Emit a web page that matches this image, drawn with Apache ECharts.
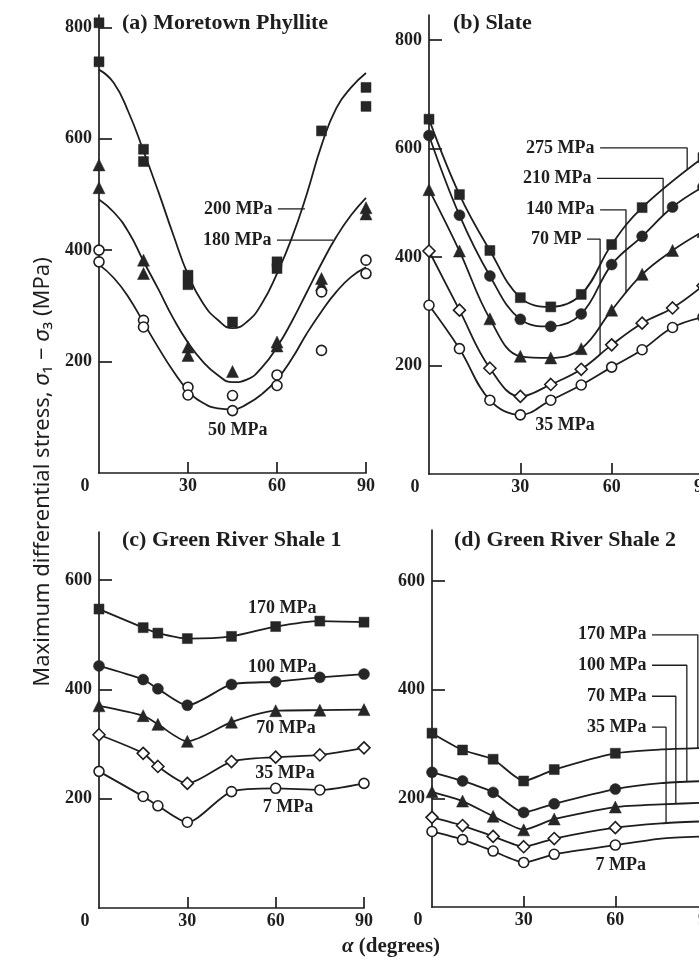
<!DOCTYPE html>
<html><head><meta charset="utf-8">
<script src="https://cdn.jsdelivr.net/npm/echarts@6/dist/echarts.min.js"></script>
<style>html,body{margin:0;padding:0;background:#fff}#c{width:699px;height:961px}</style>
</head><body><div id="c"></div>
<script>
// ================= DATA =================
// (a) Moretown Phyllite : measured points [alpha, stress]
const a200Pts = [[0,808],[0,738],[15,581],[15,559],[30,355],[30,338],[45,271],[60,379],[60,367],[75,614],[90,692],[90,658]];
const a180Pts = [[0,553],[0,512],[15,382],[15,358],[30,226],[30,211],[45,182],[60,235],[60,228],[75,349],[75,338],[90,476],[90,465]];
const a50Pts  = [[0,400],[0,379],[15,274],[15,262],[30,154],[30,140],[45,139],[45,112],[60,176],[60,157],[75,325],[75,220],[90,382],[90,358]];
// (a) fitted curves
const aCurveAngles = [0,5,10,15,20,25,30,35,40,45,50,55,60,65,70,75,80,85,90];
const a200Curve = [724,700,647,578,505,428,356,305,275,260,272,305,358,422,500,588,655,692,718];
const a180Curve = [491,468,432,380,330,278,234,200,176,163,168,190,226,272,324,376,424,463,494];
const a50Curve  = [374,350,315,270,225,183,148,126,116,114,124,142,168,205,250,290,325,352,369];

// (b) Slate
const bAngles = [0,10,20,30,40,50,60,70,80,90];
const b275Angles = [0,10,20,30,40,50,60,70,90];
const b275 = [654,515,412,325,308,331,423,491,583];
const b210 = [624,477,365,285,272,295,386,438,492,529];
const b140 = [524,411,286,217,214,231,302,368,412,447];
const b70  = [411,302,195,143,165,193,238,278,306,347];
const b35  = [311,231,136,109,136,164,197,229,270,289];

// (c) Green River Shale 1
const cAngles = [0,15,20,30,45,60,75,90];
const c170 = [547,513,503,493,497,515,525,523];
const c100 = [443,418,401,371,409,414,422,428];
const c70  = [370,352,336,305,340,361,362,363];
const c35  = [317,283,259,228,268,276,280,293];
const c7   = [250,204,187,157,213,219,216,228];

// (d) Green River Shale 2 (measured points, then curve continuation)
const dAngles = [0,10,20,30,40,60];
const d170 = [320,289,272,232,253,283];
const d100 = [248,232,211,174,190,217];
const d70  = [212,195,167,142,162,184];
const d35  = [165,150,130,111,126,146];
const d7   = [139,124,103,82,97,114];
const dTailAngles = [75,90];
const d170Tail = [290,293];
const d100Tail = [228,232];
const d70Tail  = [189,192];
const d35Tail  = [154,158];
const d7Tail   = [126,130];

// tick labels
const xTicks = [0,30,60,90];
const yTicksTop = [200,400,600,800];
const yTicksBottom = [200,400,600];

// annotations: [text, path of [alpha, stress]] (label sits at first point)
const aLeaders = [['200 MPa',[[60.3,474],[69.4,474]]],['180 MPa',[[60,418],[78.9,418]]]];
const aPlain = [['50 MPa',[46.8,77]]];
const bLeaders = [
  ['275 MPa',[[56.2,601],[84.8,601],[84.8,562]]],
  ['210 MPa',[[55.2,545],[76.9,545],[76.9,476]]],
  ['140 MPa',[[56.2,487],[64.7,487],[64.7,334]]],
  ['70 MP',[[51.9,433],[56.2,433],[56.2,221]]]
];
const bPlain = [['35 MPa',[44.7,90]]];
const cPlain = [['170 MPa',[62.2,549]],['100 MPa',[62.2,441]],['70 MPa',[63.5,329]],['35 MPa',[63.2,247]],['7 MPa',[64.2,185]]];
const dLeaders = [
  ['170 MPa',[[72,501],[87,501],[87,292]]],
  ['100 MPa',[[72,445],[83.4,445],[83.4,230]]],
  ['70 MPa',[[72,388],[79.8,388],[79.8,190]]],
  ['35 MPa',[[72,331],[76.6,331],[76.6,155]]]
];
const dPlain = [['7 MPa',[61.8,77]]];

const titles = ['(a) Moretown Phyllite','(b) Slate','(c) Green River Shale 1','(d) Green River Shale 2'];

// ================= CHART =================
const ink = '#1e1e1e';
const serif = '"Liberation Serif","DejaVu Serif",serif';
const chart = echarts.init(document.getElementById('c'), null, {renderer:'canvas'});

const grids = [
  {left:99, top:15, width:267, height:458},
  {left:429, top:15, width:274, height:459},
  {left:99, top:532, width:265, height:376},
  {left:432, top:530, width:275, height:377}
].map(g => Object.assign(g, {containLabel:false, outerBoundsMode:'none'}));
const yMax = [822, 846, 688, 694];

function xAxis(gi){
  return {gridIndex:gi, type:'value', min:0, max:90, interval:30,
    axisLine:{show:true, onZero:false, lineStyle:{color:ink, width:1.7}},
    axisTick:{show:true, inside:true, length:11, customValues:[30,60,90], lineStyle:{color:ink, width:1.7}},
    axisLabel:{show:true, color:ink, fontFamily:serif, fontSize:18, fontWeight:'bold', margin:4,
      customValues:xTicks, hideOverlap:false,
      formatter:v => v===0 ? '{z|0}' : String(v),
      rich:{z:{padding:[0,28,0,0], color:ink, fontFamily:serif, fontSize:18, fontWeight:'bold'}}},
    splitLine:{show:false}};
}
function yAxis(gi, ticks){
  return {gridIndex:gi, type:'value', min:0, max:yMax[gi],
    axisLine:{show:true, onZero:false, lineStyle:{color:ink, width:1.7}},
    axisTick:{show:true, inside:true, length:13, customValues:ticks, lineStyle:{color:ink, width:1.7}},
    axisLabel:{show:true, color:ink, fontFamily:serif, fontSize:18, fontWeight:'bold', margin:7, customValues:ticks},
    splitLine:{show:false}};
}

const sym = {
  square:{symbol:'rect', symbolSize:10, itemStyle:{color:'#262626', borderColor:'#262626', borderWidth:0.5, opacity:1}},
  dot:{symbol:'circle', symbolSize:11, itemStyle:{color:'#262626', borderColor:'#262626', borderWidth:0.5, opacity:1}},
  tri:{symbol:'triangle', symbolSize:12, itemStyle:{color:'#262626', borderColor:'#262626', borderWidth:0.5, opacity:1}},
  diamond:{symbol:'diamond', symbolSize:12, itemStyle:{color:'#fff', borderColor:ink, borderWidth:1.6, opacity:1}},
  ring:{symbol:'circle', symbolSize:10, itemStyle:{color:'#fff', borderColor:ink, borderWidth:1.6, opacity:1}}
};

const series = [];
function zip(xs, ys){ return xs.map((x,i)=>[x, ys[i]]); }
function curve(gi, data, smooth){
  series.push({type:'line', xAxisIndex:gi, yAxisIndex:gi, data, smooth, showSymbol:false, symbol:'none',
    clip:false, silent:true, z:2, lineStyle:{color:ink, width:1.8}});
}
function pts(gi, data, s){
  series.push(Object.assign({type:'scatter', xAxisIndex:gi, yAxisIndex:gi, data, clip:false, silent:true, z:3}, JSON.parse(JSON.stringify(s))));
}
function lineWithSyms(gi, data, s, smooth){
  series.push(Object.assign({type:'line', xAxisIndex:gi, yAxisIndex:gi, data, smooth, showSymbol:true,
    clip:false, silent:true, z:3, lineStyle:{color:ink, width:1.8}}, JSON.parse(JSON.stringify(s))));
}
const labelStyle = {show:true, formatter:'{b}', color:ink, fontFamily:serif, fontSize:18, fontWeight:'bold', opacity:1};
function leaders(gi, list){
  list.forEach(([txt, path])=>{
    series.push({type:'line', xAxisIndex:gi, yAxisIndex:gi, data:path, symbol:'none', showSymbol:false,
      clip:false, silent:true, z:1, lineStyle:{color:ink, width:1.3}});
  });
  series.push({type:'scatter', xAxisIndex:gi, yAxisIndex:gi, symbolSize:1, clip:false, silent:true, z:4,
    itemStyle:{color:'rgba(0,0,0,0)', opacity:1},
    data:list.map(([txt, path])=>({name:txt, value:path[0]})),
    label:Object.assign({position:'left', distance:5}, labelStyle)});
}
function plain(gi, list){
  series.push({type:'scatter', xAxisIndex:gi, yAxisIndex:gi, symbolSize:1, clip:false, silent:true, z:4,
    itemStyle:{color:'rgba(0,0,0,0)', opacity:1},
    data:list.map(([txt, p])=>({name:txt, value:p})),
    label:Object.assign({position:'inside'}, labelStyle)});
}

// (a)
curve(0, zip(aCurveAngles, a200Curve), 0.5);
curve(0, zip(aCurveAngles, a180Curve), 0.5);
curve(0, zip(aCurveAngles, a50Curve), 0.5);
pts(0, a200Pts, sym.square);
pts(0, a180Pts, sym.tri);
pts(0, a50Pts, sym.ring);
leaders(0, aLeaders); plain(0, aPlain);

// (b)
lineWithSyms(1, zip(b275Angles, b275), sym.square, 0.4);
lineWithSyms(1, zip(bAngles, b210), sym.dot, 0.4);
lineWithSyms(1, zip(bAngles, b140), sym.tri, 0.4);
lineWithSyms(1, zip(bAngles, b70), sym.diamond, 0.4);
lineWithSyms(1, zip(bAngles, b35), sym.ring, 0.4);
leaders(1, bLeaders); plain(1, bPlain);

// (c)
lineWithSyms(2, zip(cAngles, c170), sym.square, 0.25);
lineWithSyms(2, zip(cAngles, c100), sym.dot, 0.25);
lineWithSyms(2, zip(cAngles, c70), sym.tri, 0.25);
lineWithSyms(2, zip(cAngles, c35), sym.diamond, 0.25);
lineWithSyms(2, zip(cAngles, c7), sym.ring, 0.25);
plain(2, cPlain);

// (d)
[[d170,d170Tail,sym.square],[d100,d100Tail,sym.dot],[d70,d70Tail,sym.tri],[d35,d35Tail,sym.diamond],[d7,d7Tail,sym.ring]].forEach(([p,t,s])=>{
  curve(3, zip(dAngles, p).concat(zip(dTailAngles, t)), 0.2);
  pts(3, zip(dAngles, p), s);
});
leaders(3, dLeaders); plain(3, dPlain);

const titlePos = [[122,12],[453,12],[122,529],[454,529]];

chart.setOption({
  backgroundColor:'#fff',
  animation:false,
  title: titles.map((t,i)=>({text:t, left:titlePos[i][0], top:titlePos[i][1], padding:0,
    textStyle:{color:ink, fontFamily:serif, fontSize:22, fontWeight:'bold'}})),
  grid: grids,
  xAxis: [0,1,2,3].map(xAxis),
  yAxis: [yAxis(0,yTicksTop), yAxis(1,yTicksTop), yAxis(2,yTicksBottom), yAxis(3,yTicksBottom)],
  series,
  graphic:[
    {type:'text', x:43, y:472, rotation:Math.PI/2, silent:true,
      style:{text:'Maximum differential stress, {i|σ}₁ − {i|σ}₃ (MPa)', fill:ink, align:'center', verticalAlign:'middle',
        font:'22px "Noto Sans","DejaVu Sans",sans-serif',
        rich:{i:{fontStyle:'italic', fontSize:22, fontFamily:'"Noto Sans","DejaVu Sans",sans-serif', fill:ink}}}},
    {type:'text', x:391, y:947, silent:true,
      style:{text:'{i|α} (degrees)', fill:ink, align:'center', verticalAlign:'middle',
        font:'bold 21px "Liberation Serif","DejaVu Serif",serif',
        rich:{i:{fontStyle:'italic', fontWeight:'bold', fontSize:21, fontFamily:serif, fill:ink}}}}
  ]
});
</script>
</body></html>
